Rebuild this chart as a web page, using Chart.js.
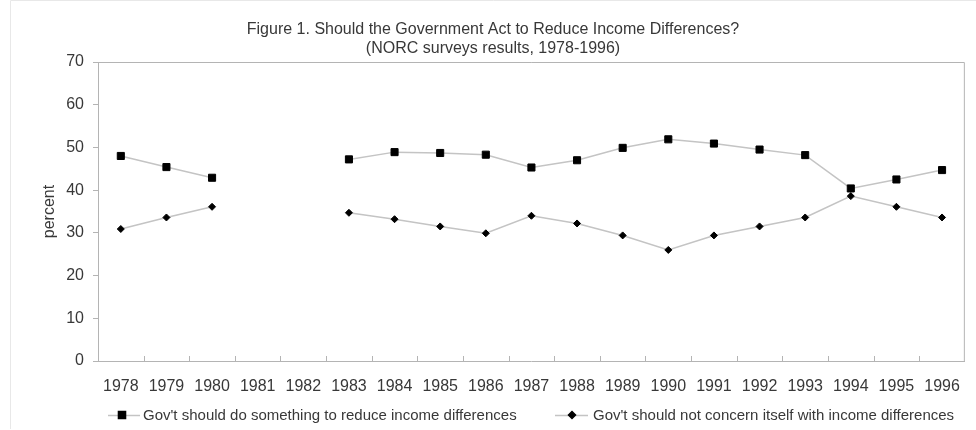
<!DOCTYPE html>
<html>
<head>
<meta charset="utf-8">
<script src="https://cdn.jsdelivr.net/npm/chart.js@4"></script>
<style>
  html, body { margin: 0; padding: 0; background: #ffffff; }
  #wrap { width: 976px; height: 430px; position: relative; }
</style>
</head>
<body>
<div id="wrap"><canvas id="c" width="976" height="430"></canvas></div>
<script>
const years = ['1978','1979','1980','1981','1982','1983','1984','1985','1986','1987','1988','1989','1990','1991','1992','1993','1994','1995','1996'];
const shouldReduce = [48.0, 45.4, 42.9, null, null, 47.2, 48.9, 48.7, 48.3, 45.3, 47.0, 49.9, 51.9, 50.9, 49.5, 48.2, 40.4, 42.5, 44.7];
const shouldNot = [30.9, 33.6, 36.1, null, null, 34.7, 33.2, 31.5, 29.9, 34.0, 32.2, 29.4, 26.0, 29.4, 31.5, 33.6, 38.6, 36.1, 33.6];
const seriesNames = ["Gov't should do something to reduce income differences", "Gov't should not concern itself with income differences"];
const titleLines = ['Figure 1. Should the Government Act to Reduce Income Differences?', '(NORC surveys results, 1978-1996)'];
const yTickValues = [0, 10, 20, 30, 40, 50, 60, 70];

const FONT = "'Liberation Sans', Arial, sans-serif";
const TEXT = '#383838';
const AXIS = '#b4b4b4';
const LINE = '#c4c4c4';

const framePlugin = {
  id: 'frame',
  afterDraw(chart) {
    const ctx = chart.ctx;
    const a = chart.chartArea;
    const xs = chart.scales.x;
    ctx.save();
    // outer figure border
    ctx.strokeStyle = '#e8e8e8';
    ctx.lineWidth = 1;
    ctx.beginPath();
    ctx.moveTo(10.5, 429);
    ctx.lineTo(10.5, 0.5);
    ctx.lineTo(976, 0.5);
    ctx.stroke();
    // top and right plot frame
    ctx.strokeStyle = AXIS;
    ctx.beginPath();
    ctx.moveTo(a.left, a.top + 0.5);
    ctx.lineTo(a.right - 0.5, a.top + 0.5);
    ctx.lineTo(a.right - 0.5, a.bottom);
    ctx.stroke();
    // inner x tick marks at category boundaries
    ctx.beginPath();
    for (let i = 0; i < years.length - 1; i++) {
      const bx = Math.round((xs.getPixelForValue(i) + xs.getPixelForValue(i + 1)) / 2) + 0.5;
      ctx.moveTo(bx, a.bottom);
      ctx.lineTo(bx, a.bottom - 5);
    }
    ctx.stroke();
    // legend
    const items = [
      {ds: chart.data.datasets[0], x0: 108, x1: 140, mx: 122, tx: 143},
      {ds: chart.data.datasets[1], x0: 555, x1: 588, mx: 572, tx: 593}
    ];
    const ly = 415;
    ctx.font = '15px ' + FONT;
    ctx.textBaseline = 'middle';
    ctx.textAlign = 'left';
    items.forEach(it => {
      ctx.strokeStyle = LINE;
      ctx.lineWidth = 1.5;
      ctx.beginPath();
      ctx.moveTo(it.x0, ly + 0.5);
      ctx.lineTo(it.x1, ly + 0.5);
      ctx.stroke();
      ctx.fillStyle = '#000000';
      ctx.strokeStyle = '#000000';
      Chart.helpers.drawPoint(ctx, {pointStyle: it.ds.pointStyle, radius: it.ds.pointRadius, borderWidth: 1}, it.mx, ly);
      ctx.fillStyle = TEXT;
      ctx.fillText(it.ds.label, it.tx, ly + 1);
    });
    ctx.restore();
  }
};

Chart.defaults.font.family = FONT;
Chart.defaults.color = TEXT;

new Chart(document.getElementById('c'), {
  type: 'line',
  data: {
    labels: years,
    datasets: [
      {
        label: seriesNames[0],
        data: shouldReduce,
        borderColor: LINE,
        borderWidth: 1.5,
        pointStyle: 'rect',
        pointRadius: 5,
        pointBackgroundColor: '#000000',
        pointBorderColor: '#000000',
        pointBorderWidth: 1,
        spanGaps: false,
        tension: 0
      },
      {
        label: seriesNames[1],
        data: shouldNot,
        borderColor: LINE,
        borderWidth: 1.5,
        pointStyle: 'rectRot',
        pointRadius: 3.5,
        pointBackgroundColor: '#000000',
        pointBorderColor: '#000000',
        pointBorderWidth: 1,
        spanGaps: false,
        tension: 0
      }
    ]
  },
  options: {
    responsive: false,
    animation: false,
    devicePixelRatio: 1,
    layout: { padding: { top: 0, right: 4, bottom: 39, left: 14 } },
    plugins: {
      legend: { display: false },
      tooltip: { enabled: false },
      title: {
        display: true,
        text: titleLines,
        color: TEXT,
        font: { size: 16, weight: 'normal', family: FONT, lineHeight: 1.2 },
        padding: { top: 20, bottom: 3.6 }
      }
    },
    scales: {
      x: {
        type: 'category',
        offset: true,
        grid: { display: true, drawOnChartArea: false, drawTicks: false, offset: true },
        border: { display: true, color: AXIS, width: 1 },
        ticks: { color: TEXT, font: { size: 16 }, padding: 16, maxRotation: 0, autoSkip: false },
        afterFit(scale) { scale.height = 30; }
      },
      y: {
        type: 'linear',
        min: 0,
        max: 70,
        afterBuildTicks(scale) { scale.ticks = yTickValues.map(v => ({value: v})); },
        grid: { display: true, drawOnChartArea: false, drawTicks: true, tickLength: 5, color: AXIS },
        border: { display: true, color: AXIS, width: 1 },
        ticks: { color: TEXT, font: { size: 16 }, padding: 9 },
        title: { display: true, text: 'percent', color: TEXT, font: { size: 16 }, padding: { top: 26, bottom: 0 } },
        afterFit(scale) { scale.width = 84; }
      }
    }
  },
  plugins: [framePlugin]
});
</script>
</body>
</html>
